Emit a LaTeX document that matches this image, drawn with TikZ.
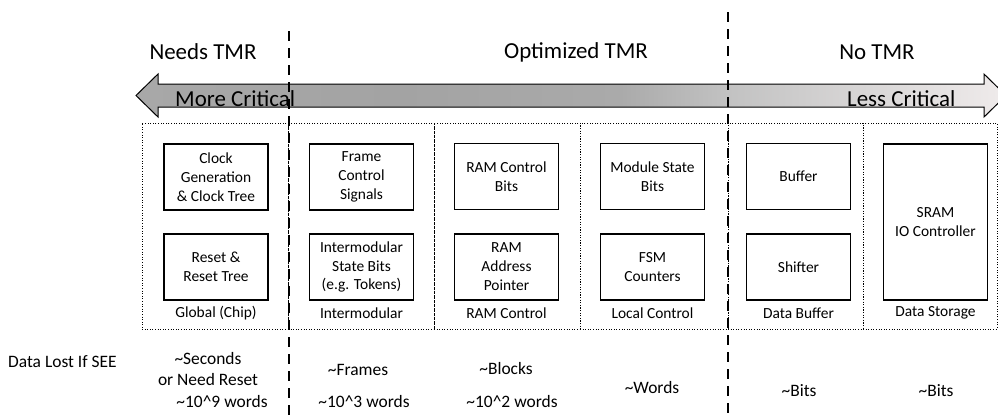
\documentclass[tikz,border=0pt]{standalone}
\usepackage{fontspec}
\setmainfont{Carlito}
\definecolor{aA}{RGB}{168,168,168}
\definecolor{aB}{RGB}{163,163,163}
\definecolor{aC}{RGB}{170,170,170}
\definecolor{aD}{RGB}{194,194,194}
\definecolor{aE}{RGB}{238,234,234}
\definecolor{aF}{RGB}{240,236,236}
\pgfdeclarehorizontalshading{arrowshade}{100bp}{color(0bp)=(aA); color(25bp)=(aA); color(40.2bp)=(aB); color(52.8bp)=(aC); color(59bp)=(aD); color(74.5bp)=(aE); color(75bp)=(aF); color(100bp)=(aF)}
\begin{document}
\begin{tikzpicture}[x=1bp,y=-1bp,
  title/.style={font=\fontsize{23}{27}\selectfont, inner sep=0pt},
  colbox/.style={draw=black, line width=1bp, dash pattern=on 1bp off 1.6bp, minimum height=206bp, inner sep=0pt},
  blk/.style={draw=black, line width=1.3bp, minimum width=104bp, minimum height=66bp, inner sep=0pt, align=center, font=\fontsize{15.5}{19}\selectfont},
  lbl/.style={font=\fontsize{15.5}{19}\selectfont, inner sep=0pt},
  loss/.style={font=\fontsize{17.5}{20.5}\selectfont, inner sep=0pt, align=center},
  divider/.style={draw=black, line width=1.2bp, dash pattern=on 10bp off 7bp}
]
\useasboundingbox (0,0) rectangle (998,418);
\clip (0,0) rectangle (998,418);

% titles
\node[title] (tneed) at (203,52) {Needs TMR};
\node[title] (topt) at (576,52) {Optimized TMR};
\node[title] (tno) at (877,52) {No TMR};

% double block arrow
\path[shading=arrowshade, draw=black, line width=1bp]
  (136,95.5) -- (158,74) -- (158,84) -- (984,84) -- (984,74) -- (1006,95.5)
  -- (984,117) -- (984,107) -- (158,107) -- (158,117) -- cycle;
\node[title, anchor=base west] (more) at (175,106.5) {More Critical};
\node[title, anchor=base west] (less) at (847,106) {Less Critical};

% column boxes
\node[colbox, minimum width=146bp] (cg) at (215,226) {};
\node[colbox, minimum width=146bp] (cim) at (361,226) {};
\node[colbox, minimum width=146bp] (crc) at (507,226) {};
\node[colbox, minimum width=148bp] (clc) at (654,226) {};
\node[colbox, minimum width=135bp] (cdb) at (795.5,226) {};
\node[colbox, minimum width=134bp] (cds) at (930,226) {};

% inner blocks
\node[blk] (clk) at (216,177) {Clock\\Generation\\\& Clock Tree};
\node[blk] (rst) at (216,267) {Reset \&\\Reset Tree};
\node[blk] (frm) at (361.5,177) {Frame\\Control\\Signals};
\node[blk] (ism) at (361.5,267) {Intermodular\\State Bits\\(e.g. Tokens)};
\node[blk] (rcb) at (506.5,176.5) {RAM Control\\Bits};
\node[blk] (rap) at (506.5,267) {RAM\\Address\\Pointer};
\node[blk] (msb) at (652.5,176.5) {Module State\\Bits};
\node[blk] (fsm) at (652.5,267) {FSM\\Counters};
\node[blk] (buf) at (798.5,176.5) {Buffer};
\node[blk] (shf) at (798.5,267) {Shifter};
\node[blk, minimum height=156bp] (sram) at (935.5,222) {SRAM\\IO Controller};

% column labels
\node[lbl] (lg) at (216,313) {Global (Chip)};
\node[lbl] (lim) at (361.5,313) {Intermodular};
\node[lbl] (lrc) at (506.5,313) {RAM Control};
\node[lbl] (llc) at (652.5,313) {Local Control};
\node[lbl] (ldb) at (798.5,313) {Data Buffer};
\node[lbl] (lds) at (935.5,313) {Data Storage};

% data lost row
\node[loss, anchor=west] (dl) at (8,362) {Data Lost If SEE};
\node[loss] (sec) at (208,369) {\textasciitilde Seconds\\or Need Reset};
\node[loss] (w9) at (222,402) {\textasciitilde 10\textasciicircum 9 words};
\node[loss] (frs) at (358,370) {\textasciitilde Frames};
\node[loss] (w3) at (364,402) {\textasciitilde 10\textasciicircum 3 words};
\node[loss] (blks) at (506,369) {\textasciitilde Blocks};
\node[loss] (w2) at (512,402) {\textasciitilde 10\textasciicircum 2 words};
\node[loss] (wds) at (652,388) {\textasciitilde Words};
\node[loss] (bits1) at (799,391) {\textasciitilde Bits};
\node[loss] (bits2) at (936,391) {\textasciitilde Bits};

% dashed dividers
\coordinate (d1t) at (289,31);
\coordinate (d1b) at (289,418);
\coordinate (d2t) at (728,12);
\coordinate (d2b) at (728,418);
\draw[divider] (d1t) -- (d1b);
\draw[divider] (d2t) -- (d2b);
\end{tikzpicture}
\end{document}
